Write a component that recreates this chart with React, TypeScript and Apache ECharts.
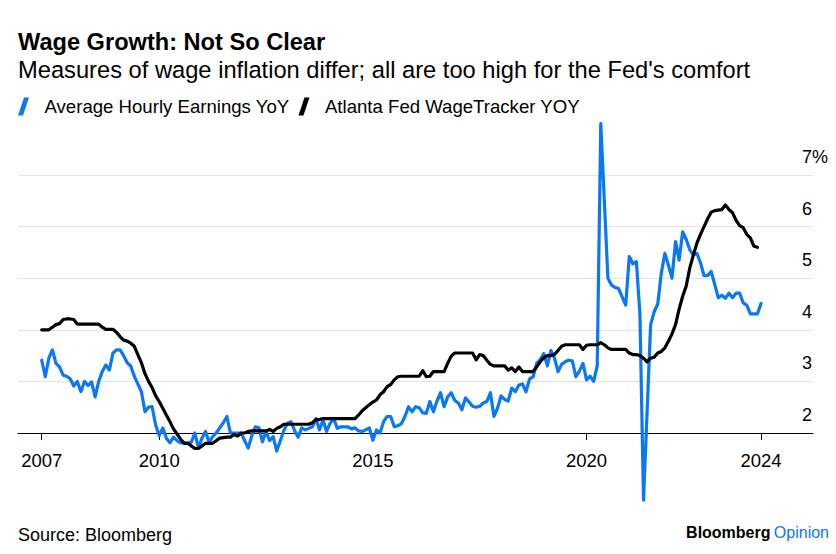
import React, { useEffect, useRef } from "react";
import * as echarts from "echarts";

const TITLE = "Wage Growth: Not So Clear";
const SUBTITLE = "Measures of wage inflation differ; all are too high for the Fed's comfort";
const SOURCE = "Source: Bloomberg";
const SERIES_NAMES = ["Average Hourly Earnings YoY", "Atlanta Fed WageTracker YOY"];

// Monthly observations, first = Mar 2007
// Average Hourly Earnings YoY (%), Mar 2007 .. Jan 2024
const ahe2007 = [3.41, 3.09, 3.45, 3.61, 3.35, 3.28, 3.12, 3.10, 3.05, 2.91];
const ahe2008 = [3.00, 2.80, 3.00, 2.92, 2.99, 2.70, 3.00, 3.19, 3.32, 3.22, 3.55, 3.61];
const ahe2009 = [3.61, 3.50, 3.36, 3.30, 3.10, 2.95, 2.80, 2.41, 2.50, 2.51, 2.15, 1.95];
const ahe2010 = [2.10, 1.90, 1.81, 1.92, 1.85, 1.81, 1.81, 1.81, 1.82, 2.00, 1.71, 1.90];
const ahe2011 = [2.03, 1.82, 1.93, 2.00, 2.10, 2.20, 2.32, 2.00, 2.00, 2.00, 2.00, 1.85];
const ahe2012 = [1.71, 1.95, 2.12, 2.10, 1.83, 2.03, 1.85, 1.93, 1.65, 1.85, 2.05, 2.19];
const ahe2013 = [2.22, 2.05, 1.92, 2.10, 2.06, 2.09, 2.12, 2.28, 2.06, 2.25, 2.03, 2.19];
const ahe2014 = [2.28, 2.09, 2.12, 2.12, 2.12, 2.08, 2.10, 2.04, 2.03, 2.06, 2.10, 1.86];
const ahe2015 = [2.06, 2.00, 2.22, 2.32, 2.32, 2.12, 2.14, 2.18, 2.32, 2.51, 2.41, 2.51];
const ahe2016 = [2.49, 2.39, 2.38, 2.61, 2.41, 2.62, 2.78, 2.51, 2.70, 2.78, 2.63, 2.58];
const ahe2017 = [2.45, 2.68, 2.60, 2.52, 2.50, 2.52, 2.58, 2.61, 2.78, 2.32, 2.48, 2.72];
const ahe2018 = [2.65, 2.62, 2.87, 2.80, 2.93, 2.95, 2.80, 3.05, 3.09, 3.35, 3.42, 3.54];
const ahe2019 = [3.30, 3.60, 3.45, 3.19, 3.33, 3.38, 3.41, 3.40, 3.09, 3.20, 3.35, 3.03];
const ahe2020 = [3.10, 3.00, 3.30, 8.00, 6.50, 5.00, 4.87, 4.82, 4.80, 4.64, 4.48, 5.42];
const ahe2021 = [5.28, 5.32, 4.30, 0.70, 2.40, 4.10, 4.35, 4.50, 5.10, 5.48, 5.25, 5.00];
const ahe2022 = [5.71, 5.35, 5.90, 5.75, 5.55, 5.45, 5.48, 5.30, 5.05, 5.05, 5.13, 4.88];
const ahe2023 = [4.62, 4.67, 4.61, 4.71, 4.62, 4.71, 4.71, 4.52, 4.48, 4.31, 4.31, 4.31];
const ahe2024 = [4.51];

// Atlanta Fed WageTracker YoY (%), Mar 2007 .. Dec 2023
const atl2007 = [4.00, 4.00, 4.00, 4.05, 4.10, 4.12, 4.20, 4.21, 4.21, 4.20];
const atl2008 = [4.11, 4.11, 4.11, 4.11, 4.11, 4.11, 4.11, 4.05, 4.01, 4.01, 4.01, 3.95];
const atl2009 = [3.87, 3.80, 3.78, 3.74, 3.68, 3.52, 3.36, 3.15, 3.00, 2.88, 2.72, 2.61];
const atl2010 = [2.48, 2.35, 2.22, 2.08, 1.98, 1.88, 1.80, 1.80, 1.75, 1.70, 1.70, 1.75];
const atl2011 = [1.80, 1.80, 1.80, 1.85, 1.90, 1.91, 1.92, 1.92, 1.97, 1.94, 2.00, 2.00];
const atl2012 = [2.03, 2.04, 2.04, 2.04, 2.04, 2.04, 2.07, 2.03, 2.09, 2.12, 2.17, 2.17];
const atl2013 = [2.17, 2.17, 2.17, 2.17, 2.17, 2.17, 2.20, 2.26, 2.26, 2.28, 2.28, 2.28];
const atl2014 = [2.28, 2.28, 2.28, 2.28, 2.28, 2.28, 2.28, 2.35, 2.43, 2.49, 2.55, 2.60];
const atl2015 = [2.64, 2.74, 2.80, 2.90, 2.94, 3.03, 3.09, 3.10, 3.10, 3.10, 3.10, 3.10];
const atl2016 = [3.10, 3.21, 3.09, 3.10, 3.19, 3.19, 3.19, 3.19, 3.35, 3.49, 3.55, 3.55];
const atl2017 = [3.55, 3.55, 3.55, 3.55, 3.42, 3.52, 3.50, 3.41, 3.33, 3.30, 3.30, 3.30];
const atl2018 = [3.30, 3.22, 3.26, 3.19, 3.28, 3.19, 3.19, 3.19, 3.19, 3.28, 3.38, 3.46];
const atl2019 = [3.50, 3.50, 3.52, 3.60, 3.68, 3.71, 3.71, 3.71, 3.71, 3.71, 3.62, 3.70];
const atl2020 = [3.71, 3.71, 3.71, 3.75, 3.71, 3.65, 3.62, 3.62, 3.62, 3.62, 3.62, 3.55];
const atl2021 = [3.52, 3.52, 3.50, 3.45, 3.38, 3.45, 3.47, 3.55, 3.58, 3.65, 3.78, 3.92];
const atl2022 = [4.10, 4.40, 4.65, 4.85, 5.20, 5.45, 5.68, 5.85, 6.00, 6.15, 6.28, 6.31];
const atl2023 = [6.32, 6.33, 6.42, 6.33, 6.27, 6.12, 6.02, 5.98, 5.85, 5.78, 5.62, 5.60];

// Axis ticks (month index from Mar 2007) and labels
const X_TICK_POS = [0, 33, 93, 153, 202];
const X_TICK_LABELS = ["2007", "2010", "2015", "2020", "2024"];
const Y_TICKS = [2, 3, 4, 5, 6, 7];

const BLUE = "#0a78f5";
const BLACK = "#000000";
const FONT = "'Liberation Sans', Arial, Helvetica, sans-serif";

const ahe = [
  ...ahe2007, ...ahe2008, ...ahe2009, ...ahe2010, ...ahe2011, ...ahe2012,
  ...ahe2013, ...ahe2014, ...ahe2015, ...ahe2016, ...ahe2017, ...ahe2018,
  ...ahe2019, ...ahe2020, ...ahe2021, ...ahe2022, ...ahe2023, ...ahe2024,
];
const atl = [
  ...atl2007, ...atl2008, ...atl2009, ...atl2010, ...atl2011, ...atl2012,
  ...atl2013, ...atl2014, ...atl2015, ...atl2016, ...atl2017, ...atl2018,
  ...atl2019, ...atl2020, ...atl2021, ...atl2022, ...atl2023,
];

export default function App() {
  const ref = useRef<HTMLDivElement>(null);
  useEffect(() => {
    if (!ref.current) return;
    const chart = echarts.init(ref.current, null, { renderer: "svg" });
    const slash = "path://M6,0 L11,0 L5,18 L0,18 Z";
    chart.setOption({
      animation: false,
      backgroundColor: "#ffffff",
      textStyle: { fontFamily: FONT },
      title: [
        {
          text: TITLE,
          left: 18,
          top: 30,
          padding: 0,
          textStyle: { fontSize: 23.6, fontWeight: "bold", color: "#000", fontFamily: FONT },
        },
        {
          text: SUBTITLE,
          left: 18,
          top: 58,
          padding: 0,
          textStyle: { fontSize: 23.7, fontWeight: "normal", color: "#000", fontFamily: FONT },
        },
      ],
      legend: {
        left: 18,
        top: 97,
        padding: 0,
        itemWidth: 16,
        itemHeight: 18,
        itemGap: 9,
        data: [
          { name: SERIES_NAMES[0], icon: slash, itemStyle: { color: BLUE } },
          { name: SERIES_NAMES[1], icon: slash, itemStyle: { color: BLACK } },
        ],
        textStyle: { fontSize: 18.6, color: "#000", fontFamily: FONT, padding: [0, 0, 0, 8] },
      },
      grid: { left: 18, right: 23, top: 175, bottom: 121 },
      xAxis: {
        type: "value",
        min: -6.66,
        max: 216.6,
        splitLine: { show: false },
        axisLine: { show: true, onZero: false, lineStyle: { color: "#000", width: 1 } },
        axisTick: {
          show: true,
          length: 7,
          customValues: X_TICK_POS,
          lineStyle: { color: "#000", width: 1 },
        },
        axisLabel: {
          customValues: X_TICK_POS,
          margin: 18,
          fontSize: 18.5,
          color: "#000",
          fontFamily: FONT,
          formatter: (v: number) => {
            const k = X_TICK_POS.indexOf(Math.round(v));
            return k >= 0 ? X_TICK_LABELS[k] : "";
          },
        },
      },
      yAxis: {
        type: "value",
        position: "right",
        min: Y_TICKS[0],
        max: Y_TICKS[Y_TICKS.length - 1],
        interval: 1,
        axisLine: { show: false },
        axisTick: { show: false },
        splitLine: { show: true, lineStyle: { color: "#e4e4e4", width: 1 } },
        axisLabel: {
          margin: -11,
          fontSize: 18,
          color: "#000",
          fontFamily: FONT,
          align: "left",
          verticalAlign: "bottom",
          lineHeight: 36,
          formatter: (v: number) => (v === Y_TICKS[Y_TICKS.length - 1] ? `${v}%` : `${v}`),
        },
      },
      series: [
        {
          name: SERIES_NAMES[0],
          type: "line",
          data: ahe.map((v, i) => [i, v]),
          showSymbol: false,
          clip: false,
          color: BLUE,
          lineStyle: { color: BLUE, width: 3.2, cap: "round", join: "round" },
          z: 2,
        },
        {
          name: SERIES_NAMES[1],
          type: "line",
          data: atl.map((v, i) => [i, v]),
          showSymbol: false,
          clip: false,
          color: BLACK,
          lineStyle: { color: BLACK, width: 3.2, cap: "round", join: "round" },
          z: 3,
        },
      ],
      graphic: [
        {
          type: "text",
          left: 18,
          top: 526,
          style: { text: SOURCE, fontSize: 18, fill: "#000", fontFamily: FONT },
        },
        {
          type: "text",
          right: 7,
          top: 524,
          style: {
            text: "{a|Bloomberg} {b|Opinion}",
            fontFamily: FONT,
            rich: {
              a: { fontSize: 16, fontWeight: "bold", fill: "#000", fontFamily: FONT },
              b: { fontSize: 16, fill: BLUE, fontFamily: FONT },
            },
          },
        },
      ],
    });
    return () => chart.dispose();
  }, []);
  return (
    <div
      ref={ref}
      style={{ position: "fixed", left: 0, top: 0, width: 836, height: 554, background: "#fff" }}
    />
  );
}
